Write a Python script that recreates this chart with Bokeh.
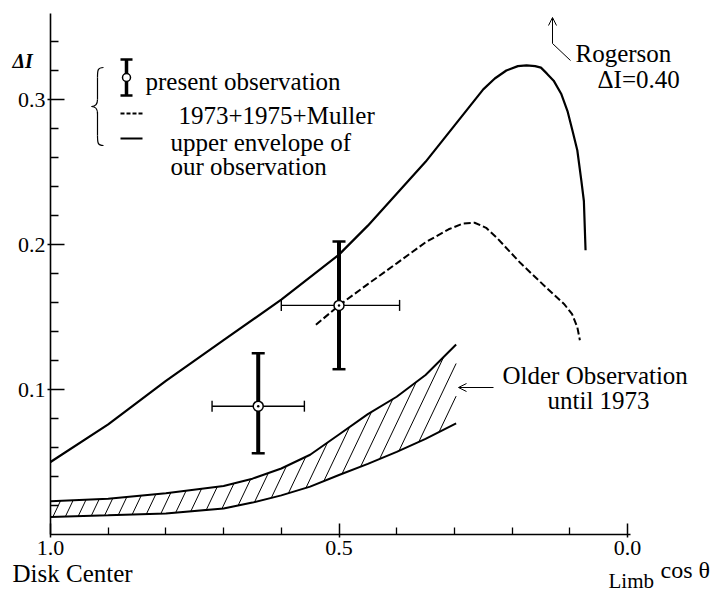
import numpy as np
from bokeh.plotting import figure
from bokeh.models import (Range1d, FixedTicker, Whisker, TeeHead, ColumnDataSource,
                          Label, Arrow, OpenHead)
from bokeh.embed import file_html
from bokeh.resources import INLINE

# ---------------- data ----------------
envelope_cos = [1.0, 0.9, 0.8, 0.7, 0.6, 0.5, 0.45, 0.4, 0.35, 0.3, 0.25, 0.23, 0.21,
                0.19, 0.175, 0.16, 0.15, 0.14, 0.128, 0.115, 0.104, 0.095, 0.087, 0.08,
                0.0756, 0.0727]
envelope_dI = [0.05, 0.076, 0.106, 0.134, 0.162, 0.193, 0.213, 0.235, 0.257, 0.282, 0.307,
               0.3145, 0.320, 0.323, 0.3235, 0.323, 0.322, 0.318, 0.313, 0.304, 0.292,
               0.278, 0.265, 0.244, 0.230, 0.196]

muller_cos = [0.54, 0.5, 0.45, 0.4, 0.35, 0.31, 0.285, 0.265, 0.245, 0.225, 0.185, 0.14,
              0.11, 0.096, 0.087, 0.0825]
muller_dI = [0.1446, 0.158, 0.1727, 0.187, 0.2015, 0.2105, 0.2145, 0.215, 0.2115, 0.204,
             0.187, 0.170, 0.159, 0.152, 0.143, 0.134]

older_cos = [1.0, 0.9, 0.8, 0.7, 0.65, 0.6, 0.55, 0.5, 0.45, 0.4, 0.35, 0.297]
older_low = [0.012, 0.0132, 0.0145, 0.018, 0.022, 0.027, 0.033, 0.041, 0.0487, 0.057, 0.066, 0.0766]
older_high = [0.023, 0.0246, 0.0285, 0.0335, 0.0385, 0.0455, 0.055, 0.069, 0.083, 0.095, 0.110, 0.131]

obs_cos = [0.64, 0.50]
obs_dI = [0.0885, 0.158]
obs_dI_low = [0.056, 0.114]
obs_dI_high = [0.125, 0.202]
obs_cos_low = [0.56, 0.395]
obs_cos_high = [0.72, 0.60]

x_major = [1.0, 0.5, 0.0]
x_labels = ["1.0", "0.5", "0.0"]
x_minor = [0.9, 0.8, 0.7, 0.6, 0.4, 0.3, 0.2, 0.1]
y_major = [0.1, 0.2, 0.3]
y_labels = ["0.1", "0.2", "0.3"]
y_minor = [0.02, 0.04, 0.06, 0.08, 0.12, 0.14, 0.16, 0.18, 0.22, 0.24, 0.26, 0.28,
           0.32, 0.34]
x_axis_bounds = (-0.005, 1.0)
y_axis_bounds = (0.0, 0.359)

SERIF = "Liberation Serif"
W, H = 712, 594

# layout helpers (canvas pixel -> data), used for the frame and annotation placement
FX0, FY0 = 50.0, 534.0
SX = 577.0
SY = 1450.0


def cx(px):
    return 1.0 - (px - FX0) / SX


def cy(py):
    return (FY0 - py) / SY


# ---------------- figure: frame covers the whole canvas, axes fixed inside ----------------
p = figure(width=W, height=H, x_range=Range1d(cx(0), cx(W)), y_range=Range1d(cy(H), cy(0)),
           output_backend="svg", toolbar_location=None,
           min_border_left=0, min_border_right=0, min_border_top=0, min_border_bottom=0)
p.title.visible = False
p.xgrid.visible = False
p.ygrid.visible = False
p.outline_line_color = None
p.background_fill_color = "white"
p.border_fill_color = "white"

for ax in (p.xaxis[0], p.yaxis[0]):
    ax.axis_line_width = 1.6
    ax.major_tick_line_width = 1.5
    ax.minor_tick_line_width = 1.3
    ax.major_label_text_font = SERIF
    ax.major_label_text_font_size = "22px"
    ax.major_label_text_color = "black"
    ax.axis_line_color = "black"
    ax.major_tick_line_color = "black"
    ax.minor_tick_line_color = "black"

p.xaxis.fixed_location = 0.0
p.xaxis.bounds = x_axis_bounds
p.xaxis.ticker = FixedTicker(ticks=x_major, minor_ticks=x_minor)
p.xaxis.major_label_overrides = dict(zip(x_major, x_labels))
p.xaxis.major_tick_in = 11
p.xaxis.major_tick_out = 3
p.xaxis.minor_tick_in = 7
p.xaxis.minor_tick_out = 0
p.xaxis.major_label_standoff = 3

p.yaxis.fixed_location = 1.0
p.yaxis.bounds = y_axis_bounds
p.yaxis.ticker = FixedTicker(ticks=y_major, minor_ticks=y_minor)
p.yaxis.major_label_overrides = dict(zip(y_major, y_labels))
p.yaxis.major_tick_in = 14
p.yaxis.major_tick_out = 3
p.yaxis.minor_tick_in = 8
p.yaxis.minor_tick_out = 0
p.yaxis.major_label_standoff = 2

# ---------------- older observation band (hatched) ----------------
oc = np.array(older_cos)
ol = np.array(older_low)
oh = np.array(older_high)
p.line(oc, ol, line_color="black", line_width=2)
p.line(oc, oh, line_color="black", line_width=2)

xr = oc[::-1]


def low_at(c):
    return float(np.interp(c, xr, ol[::-1]))


def high_at(c):
    return float(np.interp(c, xr, oh[::-1]))


band_end = oc[-1]
slope = 2.1  # pixel slope of the hatch strokes
hx0, hy0, hx1, hy1 = [], [], [], []
c = 0.996
while c > band_end + 0.002:
    yb = low_at(c)
    t = 0.0
    for _ in range(8):
        t = (high_at(max(c - t / SX, band_end)) - yb) * SY / slope
    ct = c - t / SX
    if ct < band_end:
        ct = band_end
        t = (c - band_end) * SX
    hx0.append(c)
    hy0.append(yb)
    hx1.append(ct)
    hy1.append(yb + slope * t / SY)
    spacing_px = 12.5 + (1.0 - c) / (1.0 - band_end) * 8.5
    c -= spacing_px / SX
p.segment(hx0, hy0, hx1, hy1, line_color="black", line_width=1)

# ---------------- curves ----------------
p.line(envelope_cos, envelope_dI, line_color="black", line_width=2.2)
p.line(muller_cos, muller_dI, line_color="black", line_width=2, line_dash="7 3")

# ---------------- present observations ----------------
src = ColumnDataSource(dict(x=obs_cos, y=obs_dI, ylo=obs_dI_low, yhi=obs_dI_high,
                            xlo=obs_cos_low, xhi=obs_cos_high))
p.add_layout(Whisker(source=src, base="y", lower="xlo", upper="xhi", dimension="width",
                     line_width=1.4, line_color="black",
                     lower_head=TeeHead(size=11, line_width=1.4, line_color="black"),
                     upper_head=TeeHead(size=11, line_width=1.4, line_color="black")))
p.add_layout(Whisker(source=src, base="x", lower="ylo", upper="yhi", dimension="height",
                     line_width=4, line_color="black",
                     lower_head=TeeHead(size=13, line_width=2.5, line_color="black"),
                     upper_head=TeeHead(size=13, line_width=2.5, line_color="black")))
p.scatter("x", "y", source=src, marker="circle_dot", size=10, fill_color="white",
          line_color="black", line_width=1.5)

# ---------------- legend (drawn) ----------------
bx0 = [103, 97, 97, 91, 97, 97]
by0 = [67, 77, 99, 106, 113, 135]
bx1 = [97, 97, 91, 97, 97, 103]
by1 = [77, 99, 106, 113, 135, 145]
bcx0 = [97, 97, 97, 94, 97, 97]
bcy0 = [67, 85, 104, 106, 108, 142]
bcx1 = [97, 97, 94, 97, 97, 97]
bcy1 = [70, 91, 106, 108, 120, 145]
p.bezier(x0=[cx(v) for v in bx0], y0=[cy(v) for v in by0],
         x1=[cx(v) for v in bx1], y1=[cy(v) for v in by1],
         cx0=[cx(v) for v in bcx0], cy0=[cy(v) for v in bcy0],
         cx1=[cx(v) for v in bcx1], cy1=[cy(v) for v in bcy1],
         line_color="black", line_width=1.2)

p.segment([cx(126)], [cy(59)], [cx(126)], [cy(95)], line_color="black", line_width=3.5)
p.segment([cx(120), cx(120)], [cy(59), cy(95)], [cx(132), cx(132)], [cy(59), cy(95)],
          line_color="black", line_width=2.5)
p.scatter([cx(126)], [cy(77)], marker="circle", size=8, fill_color="white",
          line_color="black", line_width=1.5)
p.line([cx(120), cx(142)], [cy(113), cy(113)], line_color="black", line_width=1.8,
       line_dash="4 2")
p.line([cx(120), cx(142)], [cy(138), cy(138)], line_color="black", line_width=2)


def add_text(txt, px, py_mid, size="25px", style="normal", align="left"):
    p.add_layout(Label(x=cx(px), y=cy(py_mid), text=txt, text_font=SERIF, text_font_size=size,
                       text_font_style=style, text_align=align, text_baseline="middle",
                       text_color="black"))


add_text("present observation", 145, 81)
add_text("1973+1975+Muller", 178, 115)
add_text("upper envelope of", 170, 142)
add_text("our observation", 170, 166)

add_text("ΔI", 12, 60, size="20px", style="bold italic")
add_text("Disk Center", 12, 573)
add_text("Limb", 608, 580, size="21px")
add_text("cos θ", 660, 569, size="24px")

add_text("Rogerson", 575, 53)
add_text("ΔI=0.40", 597, 79)
p.add_layout(Arrow(end=OpenHead(size=8, line_width=1, line_color="black"),
                   x_start=cx(552), y_start=cy(43), x_end=cx(552), y_end=cy(17),
                   line_width=1, line_color="black"))
p.segment([cx(552)], [cy(43)], [cx(570)], [cy(60)], line_color="black", line_width=1)

add_text("Older Observation", 502, 375)
add_text("until 1973", 547, 400)
p.add_layout(Arrow(end=OpenHead(size=8, line_width=1, line_color="black"),
                   x_start=cx(493), y_start=cy(387), x_end=cx(458), y_end=cy(387),
                   line_width=1, line_color="black"))

open("out.html", "w").write(file_html(p, INLINE))
